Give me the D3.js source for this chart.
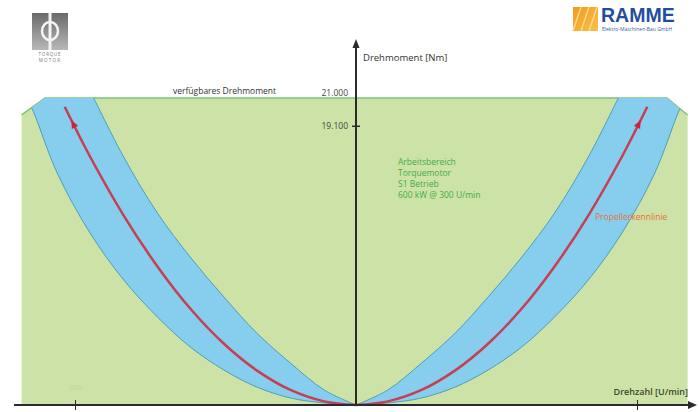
<!DOCTYPE html>
<html>
<head>
<meta charset="utf-8">
<script src="https://cdn.jsdelivr.net/npm/d3@7"></script>
<style>
body { margin: 0; background: #fff; }
svg { display: block; font-family: "Open Sans", Arial, sans-serif; }
</style>
</head>
<body>
<svg id="chart" width="699" height="412"></svg>
<script>
// values (speed in U/min, torque in Nm)
var speedInner  = [0, 34, 70, 106, 141, 177, 212, 248, 280];
var torqueInner = [0, 1030, 2870, 4930, 7390, 10120, 13130, 16960, 21000];

var speedOuter  = [0, 34, 70, 106, 141, 177, 212, 248, 284, 319, 343, 351];
var torqueOuter = [0, 140, 480, 1230, 2390, 3970, 6020, 8550, 11770, 15870, 19840, 21000];

var speedProp  = [0, 34, 70, 106, 141, 177, 212, 248, 284, 311];
var torqueProp = [0, 250, 1030, 2370, 4190, 6600, 9480, 12960, 17000, 20400];

// working range outline (S1)
var areaSpeed  = [-357, -357, -332, 332, 354, 354];
var areaTorque = [0, 19840, 21000, 21000, 19840, 0];

var yTicks = [19100, 21000];
var yTickLabels = ["19.100", "21.000"];
var xTicks = [-300, 300];

var infoLines = ["Arbeitsbereich", "Torquemotor", "S1 Betrieb", "600 kW @ 300 U/min"];

var svg = d3.select("#chart");

var x = d3.scaleLinear().domain([-300, 300]).range([75, 637]);
var y = d3.scaleLinear().domain([0, 21000]).range([405, 98]);

var line = d3.line().curve(d3.curveCatmullRom);
var lineLin = d3.line();

var areaPts = areaSpeed.map(function (s, i) { return [x(s), y(areaTorque[i])]; });

var defs = svg.append("defs");
defs.append("clipPath").attr("id", "work")
    .append("path").attr("d", lineLin(areaPts) + "Z");

var grad = defs.append("linearGradient").attr("id", "logoGray")
    .attr("x1", 0).attr("y1", 0).attr("x2", 0).attr("y2", 1);
grad.append("stop").attr("offset", "0%").attr("stop-color", "#6a6a6a");
grad.append("stop").attr("offset", "100%").attr("stop-color", "#b8b8b8");

var gradO = defs.append("linearGradient").attr("id", "logoOrange")
    .attr("x1", 0).attr("y1", 0).attr("x2", 1).attr("y2", 1);
gradO.append("stop").attr("offset", "0%").attr("stop-color", "#f39a1e");
gradO.append("stop").attr("offset", "100%").attr("stop-color", "#f8c04a");

// green working range
svg.append("path")
    .attr("d", lineLin(areaPts) + "Z")
    .attr("fill", "#cce2a6");

svg.append("path")
    .attr("d", lineLin(areaPts.slice(1, 5)))
    .attr("fill", "none")
    .attr("stroke", "#7fc27a")
    .attr("stroke-width", 1.5);

// blue bands + propeller curve, both sides
[1, -1].forEach(function (side) {
    var inner = speedInner.map(function (s, i) { return [x(side * s), y(torqueInner[i])]; });
    var outer = speedOuter.map(function (s, i) { return [x(side * s), y(torqueOuter[i])]; });
    var back = outer.slice().reverse();

    svg.append("path")
        .attr("d", line(inner) + line(back).replace(/^M/, "L") + "Z")
        .attr("fill", "#86cdee")
        .attr("clip-path", "url(#work)");

    [inner, outer].forEach(function (pts) {
        svg.append("path")
            .attr("d", line(pts))
            .attr("fill", "none")
            .attr("stroke", "#4d9fb8")
            .attr("stroke-width", 1)
            .attr("clip-path", "url(#work)");
    });

    var prop = speedProp.map(function (s, i) { return [x(side * s), y(torqueProp[i])]; });
    var redPath = svg.append("path")
        .attr("d", line(prop))
        .attr("fill", "none")
        .attr("stroke", "#c63f52")
        .attr("stroke-width", 2.5);

    // arrow head on the curve
    var node = redPath.node();
    var len = node.getTotalLength();
    var p1 = node.getPointAtLength(len - 26);
    var p2 = node.getPointAtLength(len - 20);
    var ang = Math.atan2(p2.y - p1.y, p2.x - p1.x) * 180 / Math.PI;
    svg.append("path")
        .attr("d", "M5,0 L-3,-3.5 L-3,3.5 Z")
        .attr("fill", "#d4203a")
        .attr("transform", "translate(" + p2.x + "," + p2.y + ") rotate(" + ang + ")");
});

// axes
var x0 = x(0);
svg.append("line")
    .attr("x1", x0).attr("x2", x0).attr("y1", 406).attr("y2", 46)
    .attr("stroke", "#2a2a2a").attr("stroke-width", 2);
svg.append("path")
    .attr("d", "M" + (x0 - 3.5) + ",48 L" + x0 + ",39 L" + (x0 + 3.5) + ",48 Z")
    .attr("fill", "#2a2a2a");

svg.append("line")
    .attr("x1", 14).attr("x2", 690).attr("y1", 405).attr("y2", 405)
    .attr("stroke", "#2a2a2a").attr("stroke-width", 2);
svg.append("path")
    .attr("d", "M688,401 L697,405 L688,409 Z")
    .attr("fill", "#2a2a2a");

var yAxis = svg.append("g")
    .attr("transform", "translate(" + (x0 + 4) + ",0)")
    .call(d3.axisLeft(y).tickValues(yTicks).tickSize(8)
        .tickFormat(function (d, i) { return yTickLabels[i]; }));
yAxis.select(".domain").remove();
yAxis.selectAll("line").attr("stroke", "#2a2a2a").attr("stroke-width", 1.5);
yAxis.selectAll(".tick text")
    .attr("font-size", 8.5).attr("fill", "#444").attr("x", -12)
    .attr("font-family", "Open Sans, Arial, sans-serif");
yAxis.selectAll(".tick").filter(function (d) { return d === 21000; })
    .each(function () {
        d3.select(this).select("line").remove();
        d3.select(this).select("text").attr("dy", "-0.3em");
    });

var xAxis = svg.append("g")
    .attr("transform", "translate(0,400)")
    .call(d3.axisBottom(x).tickValues(xTicks).tickSize(10)
        .tickFormat(function (d) { return d < 0 ? "300" : ""; }));
xAxis.select(".domain").remove();
xAxis.selectAll("line").attr("stroke", "#2a2a2a").attr("stroke-width", 1);
xAxis.selectAll(".tick text")
    .attr("font-size", 8).attr("fill", "#c3d8a0").attr("y", -10).attr("dy", 0);

// texts
svg.append("text").attr("x", x0 + 7).attr("y", 61)
    .attr("font-size", 9.5).attr("fill", "#333").text("Drehmoment [Nm]");

svg.append("text").attr("x", 173).attr("y", y(21000) - 4)
    .attr("font-size", 8.5).attr("fill", "#333").text("verfügbares Drehmoment");

svg.append("text").attr("x", 688).attr("y", 395)
    .attr("text-anchor", "end")
    .attr("font-size", 9).attr("font-weight", 600).attr("fill", "#3d4a2c")
    .text("Drehzahl [U/min]");

svg.append("text").attr("x", 595).attr("y", 220)
    .attr("font-size", 8.5).attr("fill", "#e8703c").text("Propellerkennlinie");

svg.append("g").selectAll("text")
    .data(infoLines).enter().append("text")
    .attr("x", 398)
    .attr("y", function (d, i) { return 165 + i * 11; })
    .attr("font-size", 8.5).attr("fill", "#3fae4a")
    .text(function (d) { return d; });

// logo left
var lg = svg.append("g");
lg.append("rect").attr("x", 32).attr("y", 13).attr("width", 36).attr("height", 37)
    .attr("fill", "url(#logoGray)");
lg.append("rect").attr("x", 48.5).attr("y", 13).attr("width", 3).attr("height", 37)
    .attr("fill", "#f4f4f4");
lg.append("ellipse").attr("cx", 50).attr("cy", 31).attr("rx", 8).attr("ry", 9)
    .attr("fill", "none").attr("stroke", "#f4f4f4").attr("stroke-width", 2.5);
lg.append("text").attr("x", 50).attr("y", 56).attr("text-anchor", "middle")
    .attr("font-size", 4.5).attr("letter-spacing", 0.8).attr("fill", "#777").text("TORQUE");
lg.append("text").attr("x", 50).attr("y", 61.5).attr("text-anchor", "middle")
    .attr("font-size", 4.5).attr("letter-spacing", 1.2).attr("fill", "#777").text("MOTOR");

// logo right
var rg = svg.append("g");
rg.append("rect").attr("x", 573).attr("y", 7).attr("width", 25).attr("height", 24)
    .attr("fill", "url(#logoOrange)");
[0, 8, 16].forEach(function (o) {
    rg.append("line")
        .attr("x1", 573 + o).attr("y1", 31).attr("x2", 581 + o).attr("y2", 7)
        .attr("stroke", "#fbd98a").attr("stroke-width", 1.5);
});
rg.append("text").attr("x", 601).attr("y", 22)
    .attr("font-size", 19.5).attr("font-weight", 700)
    .attr("font-family", "Liberation Sans, Arial, sans-serif")
    .attr("fill", "#1f4f9c").text("RAMME");
rg.append("text").attr("x", 602).attr("y", 31)
    .attr("font-size", 5).attr("fill", "#3a5fa8").text("Elektro-Maschinen-Bau GmbH");
</script>
</body>
</html>
